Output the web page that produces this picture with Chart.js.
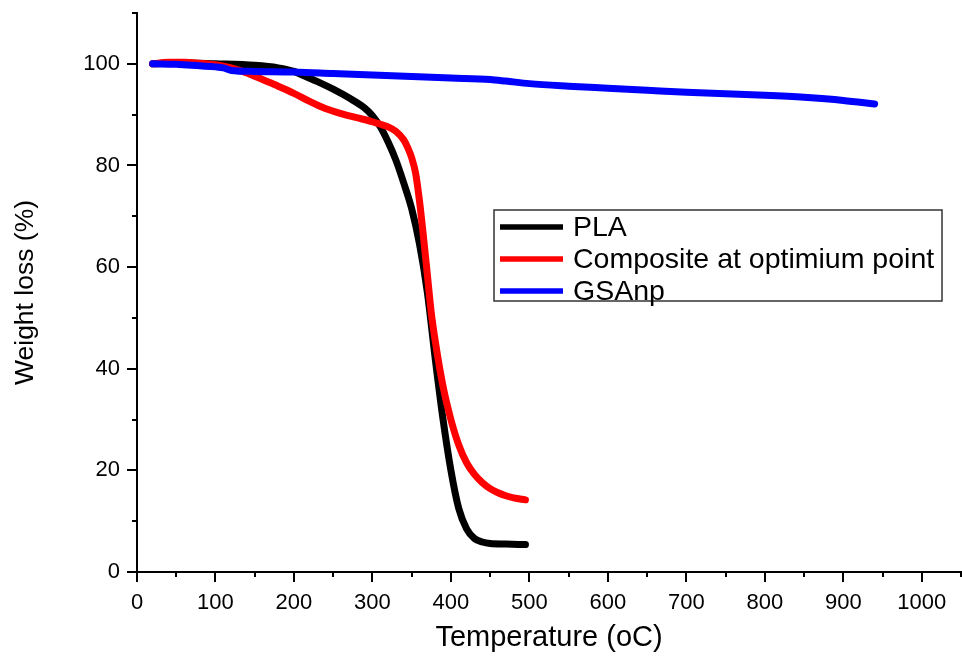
<!DOCTYPE html>
<html>
<head>
<meta charset="utf-8">
<script src="https://cdn.jsdelivr.net/npm/chart.js@4/dist/chart.umd.min.js"></script>
<style>
  html, body { margin: 0; padding: 0; background: #fff; }
  #wrap { width: 962px; height: 656px; }
</style>
</head>
<body>
<div id="wrap"><canvas id="tga"></canvas></div>
<script>
// TGA curves: temperature (oC) vs remaining weight (%)
const plaTemp = [20, 50, 100, 150, 180, 200, 215, 230, 250, 270, 290, 300, 310, 320, 330, 340, 350, 360, 370, 380, 390, 400, 410, 420, 430, 440, 450, 470, 495];
const plaWeight = [100, 100.2, 100, 99.7, 99.2, 98.5, 97.5, 96.5, 95, 93.3, 91.3, 89.8, 87.6, 84.6, 81, 76.5, 71.5, 64.5, 55, 42, 30, 20, 12.5, 8.5, 6.6, 5.9, 5.6, 5.5, 5.4];

const compTemp = [20, 40, 60, 80, 100, 120, 140, 160, 180, 200, 220, 240, 260, 280, 300, 310, 320, 330, 340, 345, 350, 355, 360, 365, 370, 375, 380, 390, 400, 410, 420, 430, 440, 450, 460, 470, 480, 495];
const compWeight = [100, 100.3, 100.3, 100.1, 99.8, 99.2, 98.2, 96.9, 95.6, 94.2, 92.6, 91.2, 90.2, 89.4, 88.6, 88.1, 87.6, 86.7, 85, 83.5, 81.5, 78.5, 73, 66, 58.5, 51, 45.5, 36.5, 30, 25, 21.5, 19.2, 17.6, 16.4, 15.6, 15, 14.6, 14.2];

const gsTemp = [20, 50, 80, 100, 110, 120, 150, 200, 250, 300, 350, 400, 450, 470, 500, 550, 600, 650, 700, 750, 800, 850, 900, 940];
const gsWeight = [100, 99.9, 99.6, 99.4, 99.2, 98.7, 98.5, 98.4, 98.1, 97.8, 97.5, 97.2, 96.9, 96.6, 96.1, 95.6, 95.2, 94.8, 94.4, 94.1, 93.8, 93.4, 92.8, 92.1];

const seriesNames = ['PLA', 'Composite at optimium point', 'GSAnp'];
const xTicks = [0, 100, 200, 300, 400, 500, 600, 700, 800, 900, 1000];
const yTicks = [0, 20, 40, 60, 80, 100];

const FONT = "'Liberation Sans', Arial, sans-serif";

function pts(xs, ys) {
    return xs.map((x, i) => ({ x: x, y: ys[i] }));
}

// major + minor tick marks on both axes
const tickMarks = {
    id: 'tickMarks',
    afterDraw(chart) {
        const ctx = chart.ctx;
        const xs = chart.scales.x, ys = chart.scales.y;
        ctx.save();
        ctx.strokeStyle = '#000';
        ctx.lineWidth = 2;
        ctx.beginPath();
        for (let v = xs.min; v <= xs.max; v += 50) {
            const px = Math.round(xs.getPixelForValue(v));
            const len = v % 100 === 0 ? 10 : 5;
            ctx.moveTo(px, xs.top);
            ctx.lineTo(px, xs.top + len);
        }
        for (let v = ys.min; v <= ys.max; v += 10) {
            const py = Math.round(ys.getPixelForValue(v));
            const len = v % 20 === 0 ? 10 : 5;
            ctx.moveTo(ys.right, py);
            ctx.lineTo(ys.right - len, py);
        }
        ctx.stroke();
        ctx.restore();
    }
};

// boxed legend inside the plot
const boxLegend = {
    id: 'boxLegend',
    afterDraw(chart) {
        const ctx = chart.ctx;
        const area = chart.chartArea;
        const left = area.left + 357, top = area.top + 197;
        const w = 448, h = 91;
        ctx.save();
        ctx.strokeStyle = '#333';
        ctx.lineWidth = 1.5;
        ctx.strokeRect(left, top, w, h);
        ctx.font = '28.5px ' + FONT;
        ctx.textBaseline = 'middle';
        ctx.textAlign = 'left';
        chart.data.datasets.forEach((ds, i) => {
            const y = top + 17 + i * 32;
            ctx.strokeStyle = ds.borderColor;
            ctx.lineWidth = 5.5;
            ctx.beginPath();
            ctx.moveTo(left + 6, y);
            ctx.lineTo(left + 69, y);
            ctx.stroke();
            ctx.fillStyle = '#000';
            ctx.fillText(ds.label, left + 79, y + 1);
        });
        ctx.restore();
    }
};

const config = {
    type: 'line',
    data: {
        datasets: [
            {
                label: seriesNames[0],
                data: pts(plaTemp, plaWeight),
                borderColor: '#000000',
                order: 2
            },
            {
                label: seriesNames[1],
                data: pts(compTemp, compWeight),
                borderColor: '#ff0000',
                order: 1
            },
            {
                label: seriesNames[2],
                data: pts(gsTemp, gsWeight),
                borderColor: '#0000ff',
                order: 0
            }
        ]
    },
    options: {
        responsive: true,
        maintainAspectRatio: false,
        animation: false,
        layout: { padding: { top: 13, right: 1, left: 0, bottom: 0 } },
        elements: {
            line: { borderWidth: 7, cubicInterpolationMode: 'monotone', fill: false, borderCapStyle: 'round' },
            point: { radius: 0 }
        },
        plugins: {
            legend: { display: false },
            tooltip: { enabled: false }
        },
        scales: {
            x: {
                type: 'linear',
                min: 0,
                max: 1050,
                afterBuildTicks: (s) => { s.ticks = xTicks.map(v => ({ value: v })); },
                afterFit: (s) => { s.height = 84; s.paddingLeft = 0; s.paddingRight = 0; },
                grid: { drawOnChartArea: false, drawTicks: false },
                border: { color: '#000', width: 2 },
                ticks: {
                    padding: 18,
                    color: '#000',
                    font: { family: FONT, size: 22 },
                    maxRotation: 0,
                    callback: (v) => String(v)
                },
                title: {
                    display: true,
                    text: 'Temperature (oC)',
                    color: '#000',
                    font: { family: FONT, size: 29 },
                    padding: { top: 0, bottom: 1 }
                }
            },
            y: {
                type: 'linear',
                min: 0,
                max: 110,
                afterBuildTicks: (s) => { s.ticks = yTicks.map(v => ({ value: v })); },
                afterFit: (s) => { s.width = 137; s.paddingTop = 0; s.paddingBottom = 0; },
                grid: { drawOnChartArea: false, drawTicks: false },
                border: { color: '#000', width: 2 },
                ticks: {
                    padding: 17,
                    color: '#000',
                    font: { family: FONT, size: 22 },
                    callback: (v) => String(v)
                },
                title: {
                    display: true,
                    text: 'Weight loss (%)',
                    color: '#000',
                    font: { family: FONT, size: 26.5 },
                    padding: { top: 10, bottom: 0 }
                }
            }
        }
    },
    plugins: [tickMarks, boxLegend]
};

const tga = new Chart(document.getElementById('tga'), config);
</script>
</body>
</html>
